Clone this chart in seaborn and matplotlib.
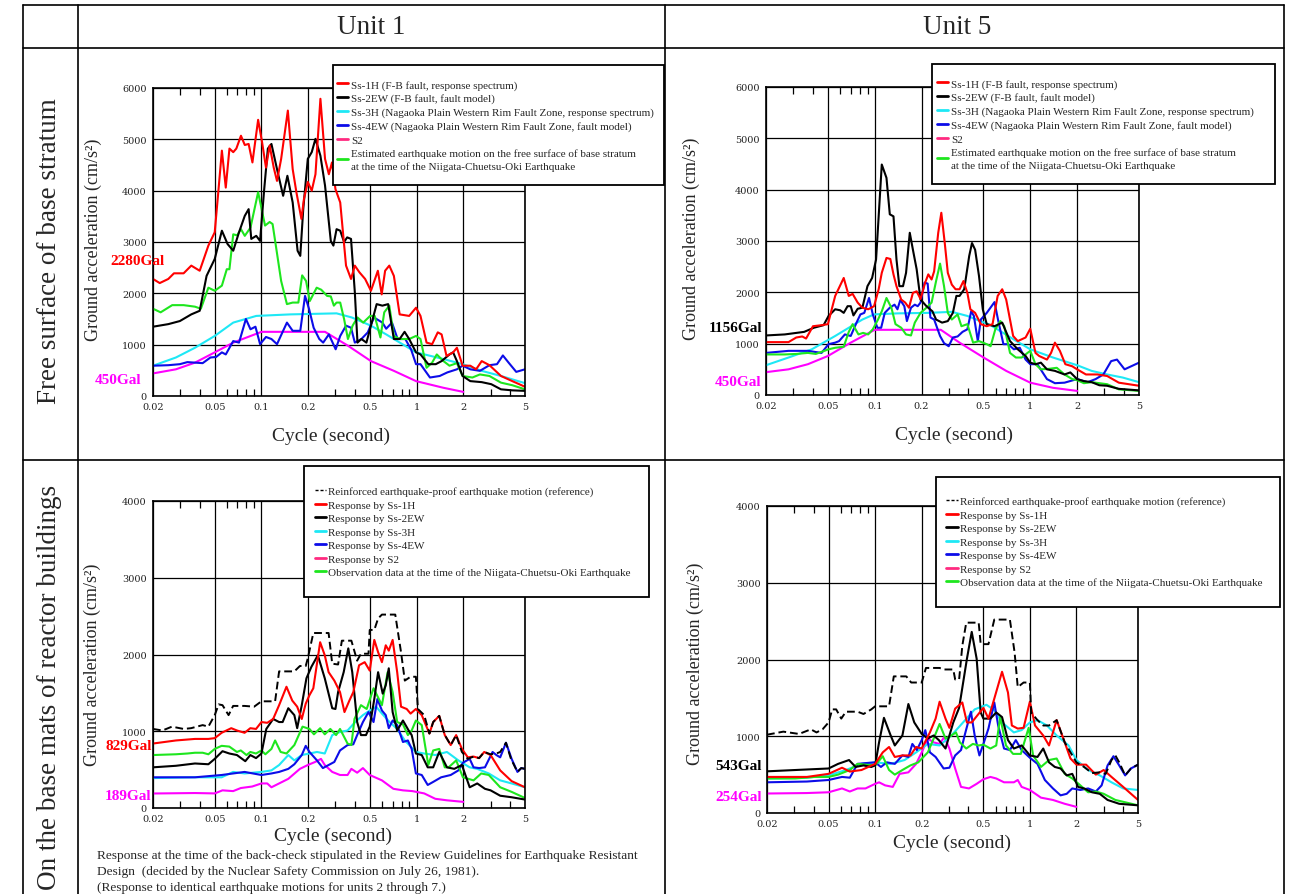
import matplotlib
matplotlib.use('Agg')
import matplotlib.pyplot as plt
import seaborn as sns
from matplotlib.lines import Line2D
from matplotlib.patches import Rectangle
import matplotlib.transforms as mtransforms
from matplotlib.ticker import FixedLocator, FixedFormatter, NullFormatter

sns.set_style('white')
plt.rcParams['font.family'] = ['Liberation Serif', 'DejaVu Serif']

# ---------------- axis definitions ----------------
XTICKS = [0.02, 0.05, 0.1, 0.2, 0.5, 1, 2, 5]
XTICKLABELS = ['0.02', '0.05', '0.1', '0.2', '0.5', '1', '2', '5']
XMINOR = [0.03, 0.04, 0.06, 0.07, 0.08, 0.09, 0.3, 0.4, 0.6, 0.7, 0.8, 0.9, 3, 4]
YMAX_TOP = 6000
YMAX_BOTTOM = 4000

COL_HEADERS = ['Unit 1', 'Unit 5']
ROW_HEADERS = ['Free surface of base stratum', 'On the base mats of reactor buildings']

LEGEND_TOP = ['Ss-1H (F-B fault, response spectrum)',
              'Ss-2EW (F-B fault, fault model)',
              'Ss-3H (Nagaoka Plain Western Rim Fault Zone, response spectrum)',
              'Ss-4EW (Nagaoka Plain Western Rim Fault Zone, fault model)',
              'S2',
              'Estimated earthquake motion on the free surface of base stratum\nat the time of the Niigata-Chuetsu-Oki Earthquake']
LEGEND_BOTTOM = ['Reinforced earthquake-proof earthquake motion (reference)',
                 'Response by Ss-1H',
                 'Response by Ss-2EW',
                 'Response by Ss-3H',
                 'Response by Ss-4EW',
                 'Response by S2',
                 'Observation data at the time of the Niigata-Chuetsu-Oki Earthquake']

CAPTION = ['Response at the time of the back-check stipulated in the Review Guidelines for Earthquake Resistant',
           'Design  (decided by the Nuclear Safety Commission on July 26, 1981).',
           '(Response to identical earthquake motions for units 2 through 7.)']

GAL_LABELS = [[('2280Gal', 2280), ('450Gal', 450)],
              [('1156Gal', 1156), ('450Gal', 450)],
              [('829Gal', 829), ('189Gal', 189)],
              [('543Gal', 543), ('254Gal', 254)]]

# ---------------- Panel 1: Unit 1, free surface of base stratum ----------------
P1_SS1H_T = [0.020,0.0221,0.0251,0.0273,0.0315,0.0353,0.040,0.0455,0.050,0.0527,0.0556,0.0589,0.0622,0.0658,0.0689,0.0738,0.0781,0.0827,0.0875,0.0952,0.101,0.107,0.113,0.120,0.126,0.134,0.148,0.159,0.168,0.181,0.188,0.199,0.211,0.223,0.240,0.257,0.272,0.285,0.300,0.322,0.351,0.378,0.400,0.428,0.466,0.508,0.563,0.596,0.627,0.667,0.714,0.778,0.896,0.992,1.06,1.16,1.26,1.37,1.45,1.56,1.72,1.82,1.98,2.22,2.42,2.63,2.95,3.50,4.14,5.00]
P1_SS1H = [2280,2200,2280,2390,2390,2540,2440,2930,3190,3970,4780,4060,4820,4750,4820,5070,4890,4910,4550,5380,4940,4450,4880,4450,4190,4620,5560,4420,3970,3450,3840,4170,4000,4320,5790,4620,4320,4550,4030,3770,2540,2280,2540,2410,2280,2050,2440,1980,2440,2540,2340,1590,1560,1720,1560,1040,1010,1240,1200,780,850,940,590,590,520,680,600,390,290,180]
P1_SS2EW_T = [0.020,0.0251,0.0298,0.0353,0.040,0.0443,0.050,0.0556,0.0605,0.0658,0.0717,0.0781,0.0827,0.0860,0.0926,0.098,0.104,0.110,0.116,0.126,0.138,0.147,0.159,0.171,0.178,0.186,0.199,0.211,0.223,0.240,0.257,0.280,0.291,0.305,0.322,0.341,0.357,0.378,0.400,0.416,0.441,0.475,0.508,0.553,0.602,0.656,0.714,0.778,0.837,0.896,0.992,1.06,1.19,1.33,1.45,1.63,1.72,1.82,1.98,2.22,2.63,3.03,3.50,4.14,5.00]
P1_SS2EW = [1350,1400,1460,1590,1660,2340,2670,3220,2960,2830,3190,3510,3640,3060,3120,3020,4000,4820,4910,4420,3900,4290,3770,2830,2730,3640,4620,4750,5010,4680,4100,3020,2930,3250,3220,3000,3090,3060,2020,1040,1110,1040,1370,1790,1760,1790,1110,1110,1250,1110,850,810,620,620,680,810,850,680,390,290,270,230,130,110,100]
P1_SS3H_T = [0.020,0.0281,0.0373,0.050,0.0658,0.0926,0.154,0.305,0.382,0.508,0.637,0.992,1.49,1.98,2.63,3.50,5.00]
P1_SS3H = [590,750,940,1170,1430,1560,1590,1610,1530,1370,1200,850,720,620,490,390,250]
P1_SS4EW_T = [0.020,0.0251,0.0298,0.0333,0.0373,0.0418,0.0469,0.0510,0.0556,0.0589,0.0658,0.0717,0.0794,0.0850,0.0915,0.098,0.107,0.116,0.126,0.138,0.146,0.159,0.178,0.191,0.203,0.217,0.236,0.250,0.272,0.301,0.322,0.351,0.378,0.400,0.441,0.485,0.531,0.602,0.637,0.694,0.755,0.846,0.921,0.992,1.06,1.22,1.41,1.58,1.82,1.98,2.22,2.56,2.95,3.30,3.60,3.92,4.39,5.00]
P1_SS4EW = [590,600,620,660,650,640,750,760,850,810,1070,1040,1500,1300,1350,1010,1150,1110,1010,1270,1430,1270,1270,1950,1690,1330,1110,1040,1200,910,1170,1370,1330,1040,1110,1240,1530,1430,1310,1430,1110,1110,910,620,620,360,390,460,520,590,520,490,600,620,790,650,470,520]
P1_S2_T = [0.020,0.0281,0.0373,0.050,0.0658,0.100,0.257,0.361,0.508,0.714,0.992,1.49,2.00]
P1_S2 = [440,520,650,850,1040,1250,1250,980,680,490,290,160,80]
P1_OBS_T = [0.020,0.0224,0.0266,0.0315,0.0373,0.0407,0.0455,0.050,0.0556,0.0598,0.0622,0.0658,0.0697,0.0738,0.0781,0.0850,0.0952,0.1055,0.113,0.118,0.123,0.134,0.146,0.159,0.173,0.183,0.194,0.205,0.227,0.243,0.265,0.280,0.293,0.305,0.322,0.341,0.361,0.387,0.416,0.453,0.502,0.537,0.585,0.619,0.667,0.714,0.778,0.896,0.992,1.06,1.16,1.26,1.35,1.49,1.63,1.82,1.98,2.29,2.56,2.95,3.50,4.14,5.00]
P1_OBS = [1700,1630,1770,1770,1740,1700,2110,2050,2150,2470,2470,3150,3130,3250,3120,3280,3970,3320,3390,3350,2990,2240,1790,1820,1820,2350,2240,1850,2110,2070,1950,1940,1760,1820,1820,1500,1110,1370,1530,1430,1560,1560,1140,1630,1760,1170,1110,1110,1170,1110,550,650,810,680,590,640,390,360,420,390,260,210,130]

# ---------------- Panel 2: Unit 5, free surface of base stratum ----------------
P2_SS1H_T = [0.020,0.0279,0.0313,0.0342,0.0362,0.0401,0.0455,0.050,0.0557,0.0632,0.0681,0.0721,0.0777,0.0833,0.0908,0.099,0.106,0.111,0.119,0.126,0.132,0.138,0.148,0.157,0.166,0.176,0.186,0.197,0.211,0.221,0.232,0.241,0.256,0.268,0.282,0.295,0.313,0.331,0.351,0.372,0.394,0.412,0.442,0.481,0.525,0.572,0.617,0.660,0.700,0.776,0.831,0.933,1.00,1.08,1.14,1.28,1.36,1.44,1.55,1.68,1.86,2.00,2.28,2.70,3.12,3.71,5.00]
P2_SS1H = [1030,1030,1120,1140,1100,1340,1360,1380,1930,2280,1930,1970,1800,1700,1670,1730,2060,2380,2670,2650,2350,2120,1860,1800,1700,1990,2020,1870,2190,2350,2250,2410,3160,3550,2960,2380,2150,2060,2060,2220,1990,1670,1600,1380,1340,1380,1930,2060,1860,1150,1050,1120,1290,820,760,690,820,1020,860,600,560,500,400,400,370,240,180]
P2_SS2EW_T = [0.020,0.0264,0.0352,0.0406,0.0469,0.0505,0.0557,0.060,0.0632,0.0669,0.0701,0.073,0.0777,0.0833,0.0898,0.0962,0.102,0.106,0.111,0.119,0.125,0.132,0.138,0.144,0.152,0.159,0.168,0.176,0.186,0.197,0.215,0.235,0.248,0.271,0.295,0.318,0.335,0.351,0.376,0.405,0.422,0.442,0.468,0.495,0.525,0.589,0.660,0.741,0.831,0.933,1.00,1.08,1.17,1.28,1.44,1.66,1.81,2.00,2.21,2.48,2.78,3.12,3.71,5.00]
P2_SS2EW = [1160,1180,1230,1310,1360,1540,1670,1650,1600,1730,1730,1550,1680,1700,2120,2280,2640,3480,4490,4230,3520,3480,2640,2120,2120,2380,3160,2830,2450,1860,1730,1630,1470,1410,1440,1600,1930,1930,2060,2710,2960,2830,2320,1670,1380,1340,1410,1050,890,760,630,600,630,500,470,400,440,310,270,250,190,180,120,90]
P2_SS3H_T = [0.020,0.0279,0.0394,0.0557,0.0833,0.099,0.140,0.221,0.313,0.394,0.556,0.785,1.00,1.40,2.00,2.48,3.12,3.93,5.00]
P2_SS3H = [580,730,890,1150,1470,1570,1590,1600,1620,1540,1360,1080,890,730,580,470,400,340,250]
P2_SS4EW_T = [0.020,0.0279,0.0372,0.0455,0.0505,0.0557,0.059,0.0643,0.0701,0.0764,0.0809,0.0857,0.0919,0.0972,0.104,0.110,0.116,0.125,0.134,0.140,0.146,0.155,0.161,0.171,0.181,0.189,0.197,0.209,0.219,0.228,0.241,0.263,0.279,0.299,0.318,0.341,0.367,0.394,0.417,0.434,0.460,0.481,0.525,0.589,0.623,0.672,0.720,0.785,0.856,0.933,1.00,1.11,1.28,1.44,1.66,2.00,2.34,2.63,2.95,3.31,3.61,4.04,5.00]
P2_SS4EW = [820,860,860,820,990,1020,1050,1180,1150,1410,1570,1600,1890,1570,1310,1310,1600,1700,1760,1670,1850,1730,1440,1700,1760,1730,1800,2190,2170,1510,1470,1150,1010,950,1120,1140,1230,1280,1630,1540,1050,1470,1600,1810,1440,990,990,890,920,690,600,600,310,230,240,310,250,310,400,660,690,500,630]
P2_S2_T = [0.020,0.0279,0.0372,0.050,0.0701,0.100,0.266,0.351,0.501,0.700,1.00,1.40,2.00]
P2_S2 = [445,500,600,760,1020,1270,1270,1020,730,470,240,140,80]
P2_OBS_T = [0.020,0.0264,0.0313,0.0372,0.0418,0.0505,0.0557,0.0632,0.0681,0.0721,0.0786,0.0842,0.0908,0.0972,0.105,0.111,0.119,0.128,0.136,0.148,0.159,0.171,0.181,0.197,0.215,0.232,0.248,0.263,0.279,0.295,0.313,0.341,0.361,0.394,0.429,0.468,0.525,0.556,0.596,0.642,0.680,0.741,0.808,0.881,0.960,1.00,1.08,1.17,1.32,1.48,1.66,1.86,2.00,2.21,2.48,3.12,3.71,5.00]
P2_OBS = [790,790,800,820,800,890,920,940,1230,1380,1180,1210,1180,1280,1470,1630,1890,1700,1380,1310,1180,1160,1410,1600,1700,1800,2220,2560,2120,1600,1470,1570,1340,1380,1020,1050,990,950,1280,1440,1340,820,730,730,820,860,600,500,510,530,400,310,290,230,250,210,110,80]

# ---------------- Panel 3: Unit 1, base mat of reactor building ----------------
P3_REF_T = [0.020,0.0230,0.0265,0.0315,0.0352,0.0418,0.0455,0.050,0.053,0.0561,0.0614,0.0657,0.0779,0.0897,0.100,0.1225,0.130,0.163,0.177,0.193,0.199,0.216,0.271,0.286,0.312,0.330,0.380,0.414,0.438,0.490,0.499,0.534,0.565,0.598,0.729,0.794,0.840,0.915,0.99,1.02,1.12,1.21,1.28,1.40,1.52,1.66,1.80,1.96,2.14,2.33,2.53,2.73,3.00,3.27,3.46,3.77,4.06,4.47,4.73,5.00]
P3_REF = [1030,1010,1060,1030,1040,1080,1060,1210,1350,1340,1210,1330,1330,1320,1390,1390,1780,1780,1850,1850,1950,2280,2280,1880,1870,2180,2180,1920,2010,2010,2320,2320,2470,2520,2520,2030,1660,1710,1710,1290,1210,970,1120,1200,950,820,950,730,640,670,650,730,700,710,730,850,640,470,520,510]
P3_SS1H_T = [0.020,0.0281,0.0373,0.0455,0.050,0.0554,0.0639,0.0695,0.0779,0.0848,0.0923,0.100,0.109,0.119,0.130,0.145,0.158,0.170,0.182,0.193,0.204,0.216,0.239,0.256,0.271,0.295,0.321,0.343,0.369,0.391,0.426,0.463,0.499,0.534,0.565,0.598,0.633,0.662,0.701,0.750,0.794,0.864,0.915,0.99,1.08,1.21,1.28,1.40,1.52,1.66,1.80,1.96,2.14,2.33,2.53,2.73,3.00,3.46,4.10,5.00]
P3_SS1H = [840,880,900,900,910,980,1040,1010,980,1040,1030,1120,1110,1160,1340,1580,1400,1320,1160,1360,1470,1560,2160,1990,1770,1660,1510,1250,1400,1510,1860,1900,1790,2190,2030,1900,2120,2050,2190,1770,1320,1290,1230,1290,1210,970,1120,1200,950,820,950,770,660,670,650,730,690,490,350,270]
P3_SS2EW_T = [0.020,0.0281,0.0373,0.0455,0.050,0.0561,0.0621,0.0695,0.0787,0.0848,0.0923,0.100,0.1075,0.119,0.130,0.137,0.149,0.163,0.170,0.182,0.195,0.210,0.231,0.256,0.286,0.300,0.312,0.339,0.363,0.385,0.414,0.438,0.472,0.499,0.534,0.565,0.605,0.633,0.662,0.701,0.750,0.817,0.889,0.930,0.99,1.08,1.18,1.28,1.40,1.57,1.75,1.96,2.20,2.46,2.76,3.00,3.46,4.10,5.00]
P3_SS2EW = [530,550,580,570,640,740,710,690,610,690,650,710,1030,1160,1120,1120,1300,1210,1040,1340,1690,1840,1990,1690,1300,1290,1510,1770,2080,1770,1120,950,950,1060,1420,1770,1490,1600,1820,1250,1010,1140,1010,950,710,690,530,530,730,530,510,560,270,320,250,230,160,140,110]
P3_SS3H_T = [0.020,0.0373,0.0554,0.0657,0.0779,0.100,0.116,0.130,0.149,0.163,0.182,0.204,0.228,0.256,0.286,0.321,0.359,0.402,0.451,0.499,0.549,0.598,0.670,0.750,0.840,0.99,1.12,1.32,1.57,1.86,2.20,2.46,2.92,3.46,4.10,5.00]
P3_SS3H = [390,400,400,470,450,470,490,560,690,620,690,710,730,710,950,990,1010,1120,1210,1270,1320,1230,1120,1030,880,730,710,690,730,620,530,510,450,360,320,270]
P3_SS4EW_T = [0.020,0.0373,0.0554,0.0657,0.0779,0.100,0.116,0.130,0.149,0.163,0.182,0.193,0.204,0.228,0.249,0.271,0.295,0.321,0.359,0.391,0.414,0.451,0.490,0.528,0.559,0.598,0.633,0.662,0.701,0.750,0.817,0.879,0.930,0.99,1.08,1.18,1.28,1.44,1.66,1.86,1.99,2.20,2.33,2.53,2.76,3.09,3.27,3.46,3.77,4.10,4.47,4.73,5.00]
P3_SS4EW = [400,400,430,450,470,430,450,470,510,570,690,810,730,620,520,560,600,750,820,830,950,1120,1250,1120,1420,1270,1210,1040,1140,1080,860,880,770,450,430,300,340,400,430,490,590,640,530,520,530,730,690,660,850,640,470,520,510]
P3_S2_T = [0.020,0.0373,0.050,0.0561,0.0657,0.0736,0.0872,0.100,0.109,0.116,0.130,0.149,0.177,0.199,0.222,0.242,0.256,0.286,0.321,0.359,0.380,0.414,0.451,0.499,0.598,0.709,0.817,0.941,1.12,1.32,1.57,2.00]
P3_S2 = [189,195,190,230,220,260,280,320,320,270,320,380,510,560,600,640,560,470,430,430,510,460,520,430,360,250,230,220,190,120,100,80]
P3_OBS_T = [0.020,0.0281,0.0333,0.0373,0.0418,0.0455,0.050,0.0554,0.0621,0.0695,0.0736,0.0801,0.0848,0.0923,0.100,0.106,0.116,0.1225,0.133,0.145,0.163,0.184,0.204,0.218,0.239,0.256,0.278,0.303,0.321,0.359,0.380,0.398,0.438,0.477,0.528,0.598,0.651,0.701,0.750,0.817,0.879,0.930,0.99,1.08,1.19,1.28,1.40,1.52,1.61,1.80,1.99,2.33,2.61,2.92,3.46,4.10,5.00]
P3_OBS = [690,700,710,720,720,700,770,810,800,730,750,690,730,710,750,700,770,880,730,710,820,1060,1030,960,1040,960,1030,950,1030,840,820,1160,1340,1290,1560,1340,1770,1510,1120,1090,950,1010,1140,1080,560,750,770,530,530,620,400,360,450,430,270,210,130]

# ---------------- Panel 4: Unit 5, base mat of reactor building ----------------
P4_REF_T = [0.020,0.0255,0.0322,0.0384,0.0418,0.0457,0.050,0.0528,0.056,0.0604,0.0647,0.077,0.0841,0.0944,0.100,0.123,0.132,0.159,0.171,0.200,0.213,0.261,0.277,0.320,0.329,0.349,0.366,0.388,0.467,0.481,0.540,0.589,0.743,0.797,0.835,0.911,1.00,1.02,1.12,1.22,1.33,1.49,1.68,1.83,2.00,2.24,2.52,2.83,3.09,3.37,3.57,3.78,4.13,4.50,5.00]
P4_REF = [1020,1060,1030,1090,1050,1090,1180,1350,1350,1230,1320,1320,1290,1350,1390,1390,1780,1780,1700,1700,1890,1890,1870,1870,1740,1740,2180,2480,2480,2200,2200,2520,2520,2090,1640,1700,1700,1310,1210,1140,1140,1210,920,790,660,600,520,530,510,690,750,660,490,580,630]
P4_SS1H_T = [0.020,0.0362,0.050,0.0611,0.0686,0.0816,0.100,0.112,0.123,0.134,0.150,0.169,0.184,0.200,0.226,0.246,0.261,0.285,0.302,0.329,0.366,0.392,0.421,0.453,0.501,0.540,0.589,0.661,0.722,0.765,0.835,0.911,1.00,1.08,1.22,1.33,1.49,1.68,1.83,2.00,2.31,2.67,3.00,3.37,4.01,5.00]
P4_SS1H = [470,470,510,590,540,560,640,790,860,730,750,750,860,840,1050,1230,1450,1230,1110,1360,1440,1180,1180,1260,1370,1230,1490,1840,1570,1140,1100,1110,1450,1140,1010,880,1210,920,710,630,630,500,560,470,340,170]
P4_SS2EW_T = [0.020,0.0304,0.050,0.0576,0.0678,0.0748,0.0841,0.0944,0.100,0.106,0.114,0.126,0.134,0.150,0.164,0.179,0.200,0.219,0.239,0.258,0.285,0.320,0.349,0.392,0.421,0.453,0.481,0.501,0.556,0.606,0.661,0.722,0.788,0.885,1.00,1.12,1.22,1.33,1.45,1.58,1.73,1.88,2.05,2.24,2.52,2.83,3.18,3.78,5.00]
P4_SS2EW = [543,560,580,640,690,600,620,600,620,920,1240,1010,880,1010,1420,1180,1030,970,1010,950,840,1180,1370,2010,2360,2010,1310,1230,1230,1310,1250,950,840,880,750,730,840,660,600,580,490,510,340,320,270,250,170,120,100]
P4_SS3H_T = [0.020,0.0362,0.050,0.0647,0.0816,0.100,0.126,0.155,0.184,0.219,0.261,0.311,0.370,0.440,0.524,0.589,0.661,0.788,0.885,1.00,1.12,1.29,1.49,1.78,2.00,2.38,2.83,3.37,4.01,5.00]
P4_SS3H = [450,460,490,560,640,660,640,690,790,900,880,1010,1180,1350,1410,1340,1180,1050,1080,1180,1210,1140,1010,880,690,560,490,400,320,300]
P4_SS4EW_T = [0.020,0.0362,0.050,0.0611,0.0686,0.077,0.0866,0.100,0.109,0.119,0.134,0.150,0.164,0.174,0.186,0.200,0.211,0.226,0.246,0.277,0.302,0.329,0.359,0.381,0.416,0.440,0.472,0.501,0.540,0.589,0.624,0.681,0.743,0.811,0.885,1.00,1.12,1.25,1.41,1.58,1.73,1.88,2.12,2.38,2.67,2.91,3.18,3.47,3.78,4.13,4.50,5.00]
P4_SS4EW = [400,410,430,470,460,640,650,660,600,660,640,750,730,900,820,950,1080,790,730,580,590,750,820,1030,1320,1010,750,900,1100,1440,1140,840,820,950,820,720,640,430,320,230,250,320,300,320,280,360,620,740,620,490,580,630]
P4_S2_T = [0.020,0.0362,0.050,0.0611,0.0686,0.077,0.0866,0.100,0.106,0.116,0.130,0.144,0.164,0.184,0.200,0.219,0.239,0.261,0.280,0.302,0.329,0.359,0.404,0.453,0.501,0.556,0.606,0.681,0.788,0.835,0.885,1.00,1.18,1.41,1.68,2.00]
P4_S2 = [254,260,270,320,280,320,320,380,400,360,340,510,530,640,790,970,920,900,990,840,580,340,320,380,440,470,450,400,400,430,340,300,200,170,120,80]
P4_OBS_T = [0.020,0.0304,0.0406,0.050,0.0576,0.0686,0.077,0.0866,0.100,0.112,0.123,0.134,0.150,0.169,0.190,0.219,0.239,0.261,0.285,0.311,0.333,0.353,0.388,0.428,0.467,0.501,0.556,0.606,0.643,0.701,0.779,0.874,0.982,1.05,1.18,1.33,1.49,1.68,1.88,2.12,2.38,2.67,3.00,3.57,5.00]
P4_OBS = [450,450,470,470,500,560,640,630,620,740,560,500,560,620,660,790,970,1160,970,1010,1050,920,840,900,880,890,840,880,1250,880,770,770,1110,750,600,690,710,510,450,360,270,280,250,170,100]

# ---------------- styling ----------------
C_RED = '#ff0000'
C_BLK = '#000000'
C_CYAN = '#1ee8f5'
C_BLUE = '#0c0ce8'
C_MAG = '#ff00ff'
C_GRN = '#1ee61e'
C_S2LEG = '#ff2a80'

W, H = 1291, 895
fig = plt.figure(figsize=(W / 100, H / 100), dpi=100)


def fx(px):
    return px / W


def fy(py):
    return 1 - py / H


def rect(l, t, r, b):
    return [l / W, 1 - b / H, (r - l) / W, (b - t) / H]


# layout of the four panels (pixel boxes)
AX_BOXES = [(153, 89, 525, 397), (766, 88, 1139, 396), (153, 502, 525, 809), (767, 507, 1138, 814)]
LEG_BOXES = [(333, 66, 664, 186), (932, 65, 1275, 185), (304, 467, 649, 598), (936, 478, 1280, 608)]
LEG_ANCHORS = [(337, 80.5), (937, 79.5), (314.5, 487), (946.5, 497)]
XLABEL_POS = [(0.479, -0.129), (0.504, -0.127), (0.483, -0.090), (0.499, -0.095)]
YLABEL_POS = [(-0.161, 0.51), (-0.201, 0.51), (-0.162, 0.47), (-0.194, 0.49)]
GAL_POS = [[(0.030, 2636), (-0.030, 312)], [(-0.010, 1319), (-0.012, 267)],
           [(-0.004, 812), (-0.004, 169)], [(-0.013, 616), (-0.013, 218)]]
GAL_COLORS = [[C_RED, C_MAG], [C_BLK, C_MAG], [C_RED, C_MAG], [C_BLK, C_MAG]]

panels = [
    dict(ymax=YMAX_TOP, ref=None,
         series=[(P1_S2_T, P1_S2, C_MAG), (P1_SS3H_T, P1_SS3H, C_CYAN), (P1_SS4EW_T, P1_SS4EW, C_BLUE),
                 (P1_OBS_T, P1_OBS, C_GRN), (P1_SS2EW_T, P1_SS2EW, C_BLK), (P1_SS1H_T, P1_SS1H, C_RED)]),
    dict(ymax=YMAX_TOP, ref=None,
         series=[(P2_S2_T, P2_S2, C_MAG), (P2_SS3H_T, P2_SS3H, C_CYAN), (P2_SS4EW_T, P2_SS4EW, C_BLUE),
                 (P2_OBS_T, P2_OBS, C_GRN), (P2_SS2EW_T, P2_SS2EW, C_BLK), (P2_SS1H_T, P2_SS1H, C_RED)]),
    dict(ymax=YMAX_BOTTOM, ref=(P3_REF_T, P3_REF),
         series=[(P3_S2_T, P3_S2, C_MAG), (P3_SS3H_T, P3_SS3H, C_CYAN), (P3_SS4EW_T, P3_SS4EW, C_BLUE),
                 (P3_OBS_T, P3_OBS, C_GRN), (P3_SS2EW_T, P3_SS2EW, C_BLK), (P3_SS1H_T, P3_SS1H, C_RED)]),
    dict(ymax=YMAX_BOTTOM, ref=(P4_REF_T, P4_REF),
         series=[(P4_S2_T, P4_S2, C_MAG), (P4_SS3H_T, P4_SS3H, C_CYAN), (P4_SS4EW_T, P4_SS4EW, C_BLUE),
                 (P4_OBS_T, P4_OBS, C_GRN), (P4_SS2EW_T, P4_SS2EW, C_BLK), (P4_SS1H_T, P4_SS1H, C_RED)]),
]

for i, p in enumerate(panels):
    ax = fig.add_axes(rect(*AX_BOXES[i]))
    for t, v, c in p['series']:
        sns.lineplot(x=t, y=v, ax=ax, color=c, lw=1.5, sort=False, estimator=None, legend=False)
    if p['ref'] is not None:
        sns.lineplot(x=p['ref'][0], y=p['ref'][1], ax=ax, color=C_BLK, lw=1.4, sort=False,
                     estimator=None, legend=False, dashes=False)
        ax.lines[-1].set_linestyle((0, (4, 2)))
    ax.set_xscale('log')
    ax.set_xlim(0.02, 5)
    ax.set_ylim(0, p['ymax'])
    ax.xaxis.set_major_locator(FixedLocator(XTICKS))
    ax.xaxis.set_major_formatter(FixedFormatter(XTICKLABELS))
    ax.xaxis.set_minor_locator(FixedLocator(XMINOR))
    ax.xaxis.set_minor_formatter(NullFormatter())
    ax.set_yticks(list(range(0, p['ymax'] + 1, 1000)))
    ax.grid(True, which='major', color='black', lw=0.9)
    ax.grid(False, which='minor')
    ax.set_axisbelow(True)
    ax.tick_params(which='major', length=0, labelsize=7, pad=4.5, labelfontfamily='DejaVu Serif',
                   labelcolor='#222222')
    ax.tick_params(which='minor', axis='x', direction='in', length=5, width=0.9, top=True,
                   bottom=True, color='black')
    for s in ax.spines.values():
        s.set_color('black')
        s.set_linewidth(1.2)
    ax.set_xlabel('Cycle (second)', fontsize=14, va='center')
    ax.xaxis.set_label_coords(*XLABEL_POS[i])
    ax.set_ylabel('Ground acceleration (cm/s²)', fontsize=13, va='center')
    ax.yaxis.set_label_coords(*YLABEL_POS[i])
    trans = mtransforms.blended_transform_factory(ax.transAxes, ax.transData)
    for (txt, _), (xa, yd), col in zip(GAL_LABELS[i], GAL_POS[i], GAL_COLORS[i]):
        ax.text(xa, yd, txt, transform=trans, ha='right', va='center', color=col,
                fontsize=11, fontweight='bold', clip_on=False, zorder=10)

    # legend box and entries
    l, t, r, b = LEG_BOXES[i]
    fig.add_artist(Rectangle((fx(l), fy(b)), (r - l) / W, (b - t) / H, transform=fig.transFigure,
                             facecolor='white', edgecolor='black', lw=1.3, zorder=5))
    if i < 2:
        handles = [Line2D([], [], color=c, lw=2) for c in [C_RED, C_BLK, C_CYAN, C_BLUE, C_S2LEG, C_GRN]]
        labels = LEGEND_TOP
    else:
        handles = [Line2D([], [], color=C_BLK, lw=1, ls=(0, (2.2, 1.4)))] + \
                  [Line2D([], [], color=c, lw=2) for c in [C_RED, C_BLK, C_CYAN, C_BLUE, C_S2LEG, C_GRN]]
        labels = LEGEND_BOTTOM
    ax_, ay_ = LEG_ANCHORS[i]
    leg = fig.legend(handles=handles, labels=labels, loc='upper left', bbox_to_anchor=(fx(ax_), fy(ay_)),
                     bbox_transform=fig.transFigure, frameon=False, fontsize=8, handlelength=1.0,
                     handletextpad=0.25, labelspacing=0.34, borderpad=0, borderaxespad=0)
    for txt in leg.get_texts():
        txt.set_linespacing(1.45)
    leg.set_zorder(6)

# ---------------- table grid ----------------
TBL_X = [23, 78, 665, 1284]
TBL_Y = [6, 49, 460.5]
for xv in TBL_X:
    fig.add_artist(Line2D([fx(xv), fx(xv)], [fy(6), 0], transform=fig.transFigure, color='black', lw=1.2, zorder=7))
for yv in TBL_Y:
    fig.add_artist(Line2D([fx(23), fx(1284)], [fy(yv), fy(yv)], transform=fig.transFigure, color='black', lw=1.2, zorder=7))

fig.text(fx(371), fy(28), COL_HEADERS[0], fontsize=19.5, ha='center', va='center')
fig.text(fx(957), fy(28), COL_HEADERS[1], fontsize=19.5, ha='center', va='center')
fig.text(fx(50), fy(251), ROW_HEADERS[0], fontsize=19.5, ha='center', va='center', rotation=90)
fig.text(fx(50), fy(687), ROW_HEADERS[1], fontsize=19.5, ha='center', va='center', rotation=90)

for k, line in enumerate(CAPTION):
    fig.text(fx(97), fy(856 + 16.2 * k), line, fontsize=9.65, ha='left', va='center')

fig.savefig('out.png', dpi=100, facecolor='white')
